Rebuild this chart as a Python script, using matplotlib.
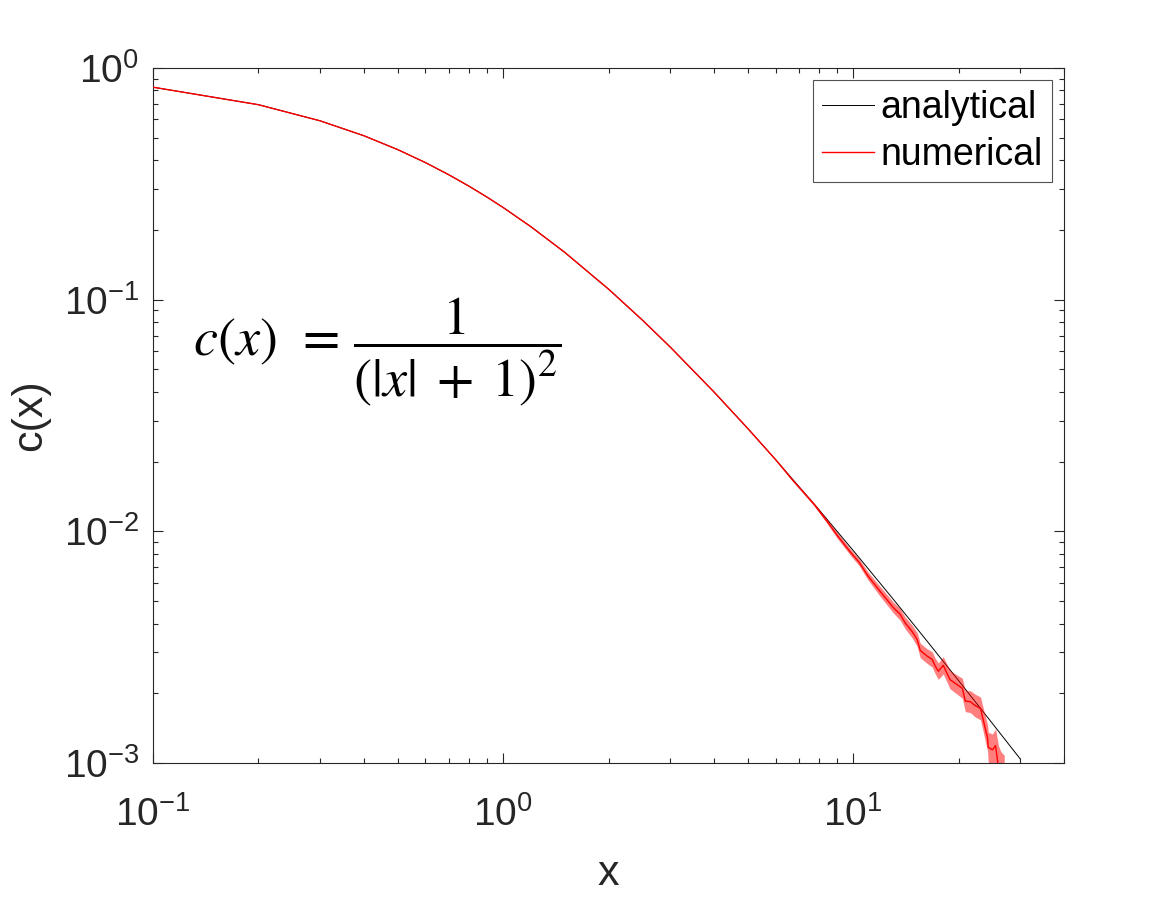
import matplotlib
matplotlib.use("Agg")
import matplotlib.pyplot as plt
import matplotlib.ticker as ticker
import numpy as np

plt.rcParams['font.family'] = ['Liberation Sans', 'DejaVu Sans']
plt.rcParams['mathtext.fontset'] = 'custom'
plt.rcParams['mathtext.rm'] = 'Liberation Sans'
plt.rcParams['mathtext.it'] = 'Liberation Sans:italic'
plt.rcParams['mathtext.default'] = 'it'

# analytical curve, values
ana_x = [0.1, 0.2, 0.3, 0.4, 0.5, 0.6, 0.7, 0.8, 0.9, 1.0, 1.2, 1.5, 2.0, 2.5, 3.0,
         4.0, 5.0, 6.0, 8.0, 10.0, 13.0, 16.0, 20.0, 25.0, 30.0]
ana_y = [0.8264, 0.6944, 0.5917, 0.5102, 0.4444, 0.3906, 0.3460, 0.3086, 0.2770, 0.2500,
         0.2066, 0.1600, 0.1111, 0.0816, 0.0625, 0.0400, 0.02778, 0.02041, 0.01235,
         0.008264, 0.005102, 0.003460, 0.002268, 0.001479, 0.001041]

# numerical mean and spread factor of the shaded band
num_x = [0.1, 0.2, 0.3, 0.4, 0.5, 0.6, 0.7, 0.8, 0.9, 1.0, 1.2, 1.5, 2.0, 2.5, 3.0,
         4.0, 5.0, 6.0, 6.7, 7.7, 8.4,
         9.0, 9.8, 10.4, 11.0, 11.94, 13.0, 13.62, 14.08, 14.74, 15.23,
         15.54, 16.27, 16.81, 17.15, 17.5, 18.08, 18.9, 19.8, 20.5, 20.9,
         21.6, 22.3, 23.1, 23.5, 24.2, 24.3, 25.0, 25.5, 26.0, 26.4, 27.0]
num_y = [0.8264, 0.6944, 0.5917, 0.5102, 0.4444, 0.3906, 0.3460, 0.3086, 0.2770, 0.2500,
         0.2066, 0.1600, 0.1111, 0.0816, 0.0625, 0.0400, 0.02778, 0.02041, 0.01669,
         0.01317, 0.01110,
         0.00961, 0.00816, 0.00735, 0.00644, 0.00550, 0.00470, 0.00438, 0.00402, 0.00369, 0.00341,
         0.00306, 0.00289, 0.00280, 0.00262, 0.00249, 0.00264, 0.00229, 0.00218, 0.00210, 0.00185,
         0.00184, 0.00177, 0.00172, 0.00154, 0.00128, 0.00117, 0.00114, 0.00119, 0.00095, 0.00070,
         0.00060]
num_f = [1.0, 1.0, 1.0, 1.0, 1.0, 1.0, 1.0, 1.0, 1.0, 1.0, 1.0, 1.0, 1.0, 1.0, 1.0,
         1.0, 1.0, 1.005, 1.01, 1.015, 1.022,
         1.03, 1.032, 1.035, 1.04, 1.05, 1.055, 1.06, 1.06, 1.065, 1.07,
         1.075, 1.075, 1.08, 1.08, 1.085, 1.09, 1.095, 1.1, 1.105, 1.11,
         1.115, 1.12, 1.12, 1.125, 1.14, 1.16, 1.17, 1.18, 1.25, 1.6, 1.8]

xColor = (0.15, 0.15, 0.15)

fig = plt.figure(figsize=(11.76, 8.99), dpi=100)
ax = fig.add_axes([153/1176, 1-763/899, (1064-153)/1176, (763-68)/899])

nx = np.array(num_x)
ny = np.array(num_y)
nf = np.array(num_f)
hAna, = ax.plot(ana_x, ana_y, c='black', lw=0.7, zorder=1, label='analytical')
ax.fill_between(nx, ny/nf, ny*nf, color='red', alpha=0.5, lw=0, zorder=2)
hNum, = ax.plot(nx, ny, c='red', lw=1.0, zorder=3, label='numerical')

ax.set_xscale('log')
ax.set_yscale('log')
ax.set_xlim(0.1, 40)
ax.set_ylim(1e-3, 1)

fmt = ticker.FuncFormatter(lambda v, pos: r'$\mathrm{10^{%d}}$' % int(round(np.log10(v))))
ax.xaxis.set_major_formatter(fmt)
ax.yaxis.set_major_formatter(fmt)
ax.xaxis.set_minor_formatter(ticker.NullFormatter())
ax.yaxis.set_minor_formatter(ticker.NullFormatter())

ax.tick_params(which='both', direction='in', top=True, right=True, color=xColor,
               labelcolor=xColor, labelsize=28, width=0.8)
ax.tick_params(which='major', length=7)
ax.tick_params(which='minor', length=3.5)
ax.tick_params(axis='x', which='major', pad=24)
ax.tick_params(axis='y', which='major', pad=10)
for s in ax.spines.values():
    s.set_color(xColor)
    s.set_linewidth(0.8)

ax.set_xlabel('x', fontsize=31, color=xColor, labelpad=14)
ax.set_ylabel('c(x)', fontsize=31, color=xColor, labelpad=10)

leg = ax.legend(handles=[hAna, hNum], loc='upper right', fontsize=27, frameon=True,
                fancybox=False, edgecolor=xColor, handlelength=1.4, handletextpad=0.15,
                borderpad=0.25, labelspacing=0.3, borderaxespad=0.33)
leg.get_frame().set_linewidth(0.8)

ax.text(193/1176, 1-352/899, r'$c(x)\;\,=\,\dfrac{1}{(|x|\;+\;1)^{2}}$',
        transform=fig.transFigure, fontsize=39, math_fontfamily='stix',
        va='center', ha='left', color='black')

fig.savefig('out.png', dpi=100)
